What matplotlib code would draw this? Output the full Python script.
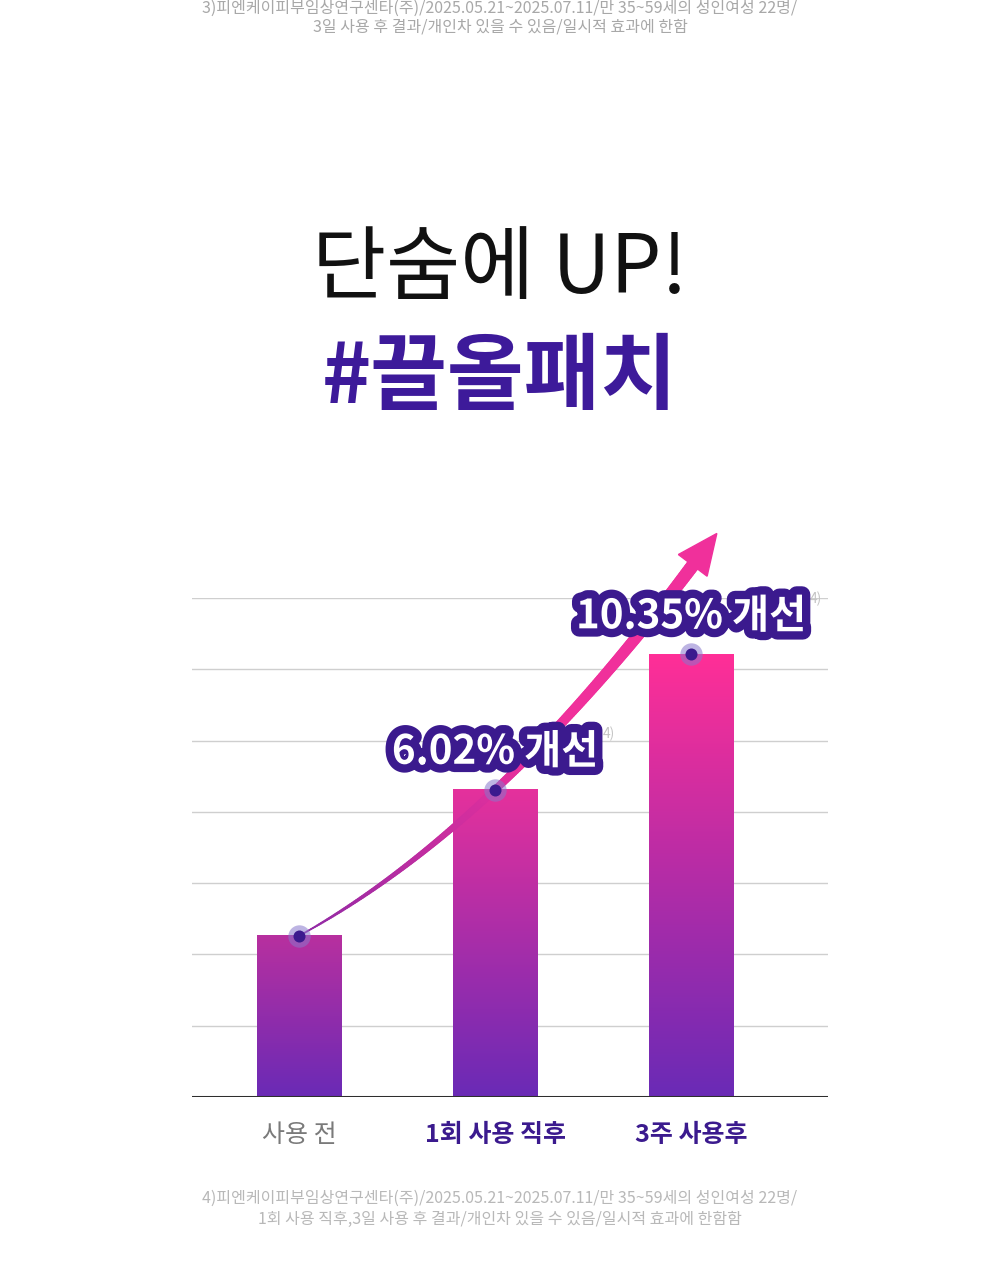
import numpy as np
import matplotlib
matplotlib.use("Agg")
import matplotlib.pyplot as plt
import matplotlib.patheffects as pe
from matplotlib.colors import LinearSegmentedColormap, to_rgb
from matplotlib.collections import LineCollection
from matplotlib.patches import Polygon

plt.rcParams['font.family'] = ['Noto Sans CJK KR', 'DejaVu Sans']

# Data
categories = ["사용 전", "1회 사용 직후", "3주 사용후"]
bar_heights = [2.26, 4.31, 6.21]
improve_labels = [None, "6.02% 개선", "10.35% 개선"]
n_grid = 7

title_line1 = "단숨에 UP!"
title_line2 = "#끌올패치"
note_top = ["3)피엔케이피부임상연구센타(주)/2025.05.21~2025.07.11/만 35~59세의 성인여성 22명/",
            "3일 사용 후 결과/개인차 있을 수 있음/일시적 효과에 한함"]
note_bottom = ["4)피엔케이피부임상연구센타(주)/2025.05.21~2025.07.11/만 35~59세의 성인여성 22명/",
               "1회 사용 직후,3일 사용 후 결과/개인차 있을 수 있음/일시적 효과에 한함함"]

# Styles
PURPLE = "#3b1a8e"
BAR_BOTTOM = "#6a2ab6"
BAR_TOPS = ["#b8309f", "#e5319c", "#ff2f97"]
GRID = "#cfcfcf"

W, H = 1000, 1280
fig = plt.figure(figsize=(W / 100, H / 100), dpi=100)
fig.patch.set_facecolor("white")

ax = fig.add_axes([192 / W, 1 - 1097 / H, 636 / W, 499 / H])
ax.set_xlim(-0.546, 2.699)
ax.set_ylim(0, n_grid)
for s in ax.spines.values():
    s.set_visible(False)
ax.set_xticks([])
ax.set_yticks([])
for g in range(1, n_grid + 1):
    ax.axhline(g, color=GRID, lw=1, zorder=1)
ax.axhline(0, color="#2e2e2e", lw=2.2, zorder=5)

# gradient bars
x = np.arange(len(categories))
bw = 0.43
grad = np.linspace(0, 1, 256).reshape(-1, 1)
for xi, h, top in zip(x, bar_heights, BAR_TOPS):
    cmap = LinearSegmentedColormap.from_list("g", [BAR_BOTTOM, top])
    ax.imshow(grad, extent=[xi - bw / 2, xi + bw / 2, 0, h], origin="lower",
              cmap=cmap, aspect="auto", zorder=2)
ax.set_xlim(-0.546, 2.699)
ax.set_ylim(0, n_grid)

# curved arrow through bar tops
x_end = 2.015
y_end = 7.48
A = np.array([[0, 0, 1], [1, 1, 1], [x_end ** 2, x_end, 1]])
coef = np.linalg.solve(A, [bar_heights[0], bar_heights[1], y_end])
cx = np.linspace(0, x_end, 200)
cy = np.polyval(coef, cx)
pts = np.column_stack([cx, cy])
segs = np.stack([pts[:-1], pts[1:]], axis=1)
t = np.linspace(0, 1, len(segs))
lws = 1.0 + 8.5 * t ** 0.9
c0, c1 = np.array(to_rgb("#8e2aa6")), np.array(to_rgb("#f0309b"))
cols = [tuple(c0 + (c1 - c0) * min(1, tt * 1.6)) for tt in t]
lc = LineCollection(segs, linewidths=lws, colors=cols, capstyle="round",
                    zorder=3, clip_on=False)
ax.add_collection(lc)

# arrow head in pixel space
tr = ax.transData
pe_ = tr.transform((x_end, y_end))
pb = tr.transform((cx[-5], cy[-5]))
d = pe_ - pb
d = d / np.hypot(*d)
nrm = np.array([-d[1], d[0]])
tip = pe_ + d * 38
w1 = pe_ + nrm * 18 - d * 2
w2 = pe_ - nrm * 18 - d * 2
head = tr.inverted().transform(np.array([tip, w1, w2]))
ax.add_patch(Polygon(head, closed=True, color="#f0309b", zorder=3, clip_on=False))

# dots
ax.scatter(x, bar_heights, s=260, color="#8877cc", alpha=0.55, zorder=6,
           clip_on=False, linewidths=0)
ax.scatter(x, bar_heights, s=75, color=PURPLE, zorder=7, clip_on=False,
           linewidths=0)

# labels
for xi, h, lab in zip(x, bar_heights, improve_labels):
    if lab is None:
        continue
    t_ = ax.annotate(lab, (xi, h), xytext=(0, 27), textcoords="offset points",
                     ha="center", va="center", fontsize=29, fontweight="bold",
                     color="white", zorder=8, annotation_clip=False)
    t_.set_path_effects([pe.withStroke(linewidth=12, foreground=PURPLE,
                                       capstyle="round", joinstyle="round")])
    ax.annotate("4)", (xi, h), xytext=(82 if xi == 1 else 90, 40),
                textcoords="offset points", ha="center", va="center",
                fontsize=10, color="#c4c4c4", zorder=1, annotation_clip=False)

# category labels
for xi, cat in zip(x, categories):
    first = xi == 0
    ax.text(xi, -0.53, cat, ha="center", va="center", fontsize=18,
            fontweight="light" if first else "bold",
            color="#7a7a7a" if first else PURPLE)

# titles
fig.text(0.5, 1 - 270 / H, title_line1, ha="center", va="center",
         fontsize=58, color="#111111")
fig.text(0.5, 1 - 378 / H, title_line2, ha="center", va="center",
         fontsize=60, fontweight=900, color="#3d1a9a")

# notes
for i, line in enumerate(note_top):
    fig.text(0.5, 1 - (8 + 19 * i) / H, line, ha="center", va="center",
             fontsize=11.5, color="#a8a8a8")
for i, line in enumerate(note_bottom):
    fig.text(0.5, 1 - (1198 + 21 * i) / H, line, ha="center", va="center",
             fontsize=11.5, color="#b8b8b8")

fig.savefig("out.png", dpi=100, facecolor="white")
